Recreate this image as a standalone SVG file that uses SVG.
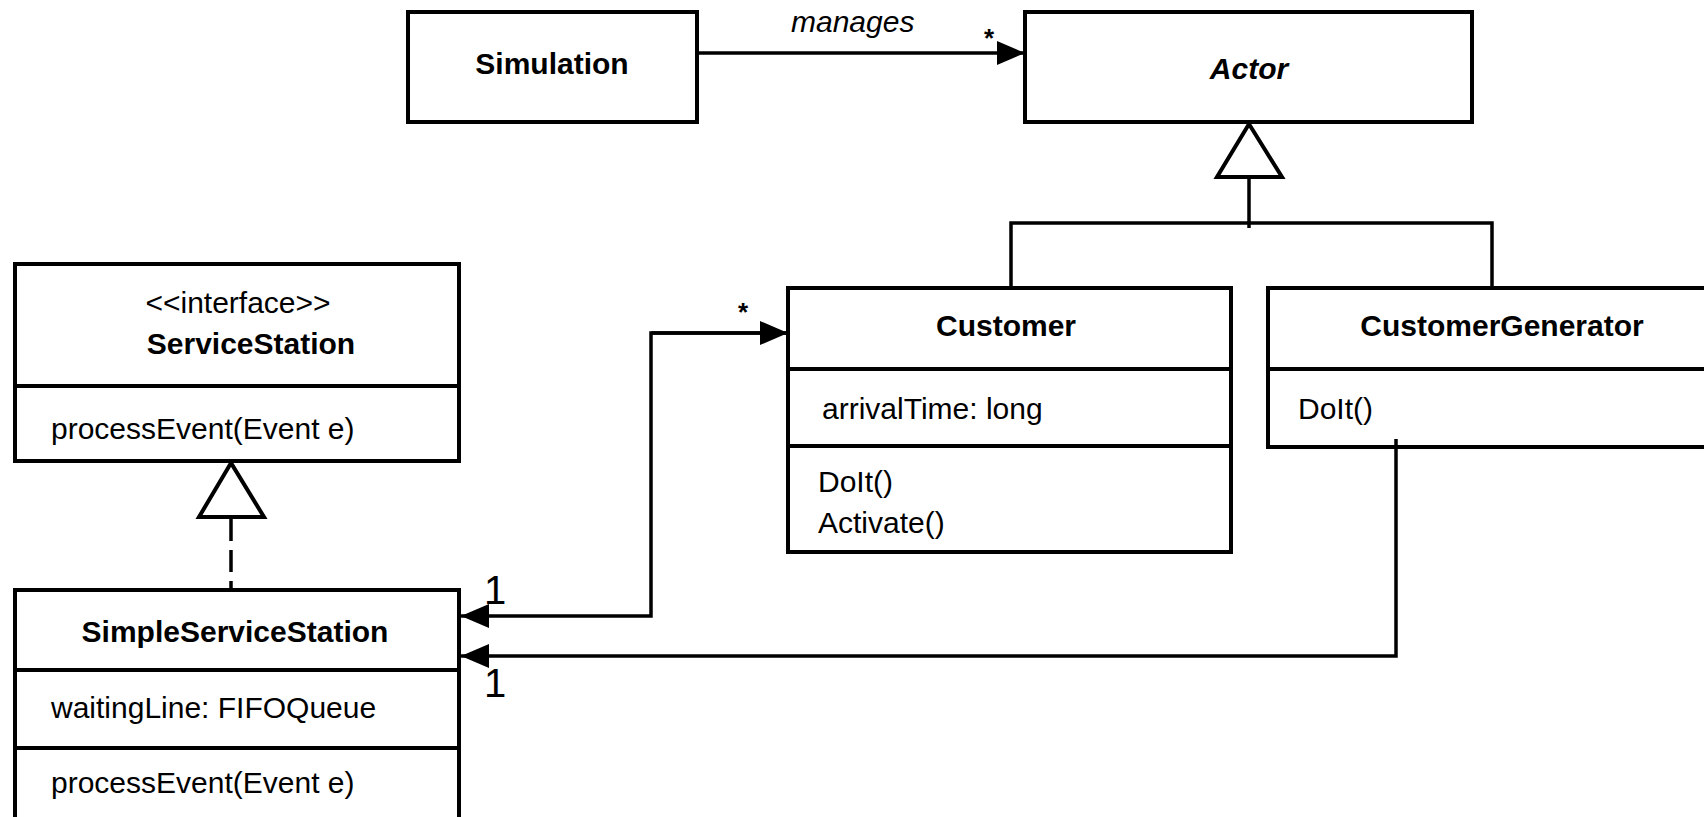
<svg xmlns="http://www.w3.org/2000/svg" width="1704" height="817" viewBox="0 0 1704 817">
<defs>
<marker id="arrow" markerUnits="userSpaceOnUse" markerWidth="28" markerHeight="24" viewBox="0 0 28 24" refX="28" refY="12" orient="auto">
<path d="M0,0 L28,12 L0,24 z" fill="#000"/>
</marker>
<style>
.box{fill:#fff;stroke:#000;stroke-width:4}
.sep{stroke:#000;stroke-width:4}
.conn{fill:none;stroke:#000;stroke-width:3.5}
.tri{fill:#fff;stroke:#000;stroke-width:4;stroke-linejoin:miter}
text{font-family:"Liberation Sans",Arial,sans-serif;font-size:30px;fill:#000}
.title{font-weight:bold;text-anchor:middle}
.mid{text-anchor:middle}
.it{font-style:italic}
.mult{font-size:40px}
.star{font-size:26px;font-weight:bold;text-anchor:middle}
</style>
</defs>
<rect width="1704" height="817" fill="#fff"/>

<g id="Simulation">
<rect class="box" x="408" y="12" width="289" height="110"/>
<text class="title" x="552" y="74">Simulation</text>
</g>

<g id="Actor">
<rect class="box" x="1025" y="12" width="447" height="110"/>
<text class="title it" x="1249" y="79">Actor</text>
</g>

<g id="ServiceStation">
<rect class="box" x="15" y="264" width="444" height="197"/>
<line class="sep" x1="15" y1="386" x2="459" y2="386"/>
<text class="mid" x="238" y="313">&lt;&lt;interface&gt;&gt;</text>
<text class="title" x="251" y="354">ServiceStation</text>
<text x="51" y="439">processEvent(Event e)</text>
</g>

<g id="SimpleServiceStation">
<rect class="box" x="15" y="590" width="444" height="250"/>
<line class="sep" x1="15" y1="670" x2="459" y2="670"/>
<line class="sep" x1="15" y1="748" x2="459" y2="748"/>
<text class="title" x="235" y="642">SimpleServiceStation</text>
<text x="51" y="718">waitingLine: FIFOQueue</text>
<text x="51" y="793">processEvent(Event e)</text>
</g>

<g id="Customer">
<rect class="box" x="788" y="288" width="443" height="264"/>
<line class="sep" x1="788" y1="369" x2="1231" y2="369"/>
<line class="sep" x1="788" y1="446" x2="1231" y2="446"/>
<text class="title" x="1006" y="336">Customer</text>
<text x="822" y="419">arrivalTime: long</text>
<text x="818" y="492">DoIt()</text>
<text x="818" y="533">Activate()</text>
</g>

<g id="CustomerGenerator">
<rect class="box" x="1268" y="288" width="460" height="159"/>
<line class="sep" x1="1268" y1="369" x2="1728" y2="369"/>
<text class="title" x="1502" y="336">CustomerGenerator</text>
<text x="1298" y="419">DoIt()</text>
</g>

<g id="connectors">
<path class="conn" d="M697,53 H1025" marker-end="url(#arrow)"/>
<text class="it" x="791" y="32">manages</text>
<text class="star" x="989" y="47">*</text>

<polygon class="tri" points="1249,124 1217,177 1282,177"/>
<path class="conn" d="M1249,177 V228"/>
<path class="conn" d="M1011,288 V223 H1492 V288"/>

<polygon class="tri" points="231,463 199,517 264,517"/>
<path class="conn" d="M231,519 V588" stroke-dasharray="22 9"/>

<path class="conn" d="M788,333 H651 V616 H461" marker-end="url(#arrow)"/>
<path class="conn" d="M651,333 H788" marker-end="url(#arrow)"/>
<text class="star" x="743" y="321">*</text>
<text class="mult" x="484" y="604">1</text>

<path class="conn" d="M1396,439 V656 H461" marker-end="url(#arrow)"/>
<text class="mult" x="484" y="697">1</text>
</g>
</svg>
